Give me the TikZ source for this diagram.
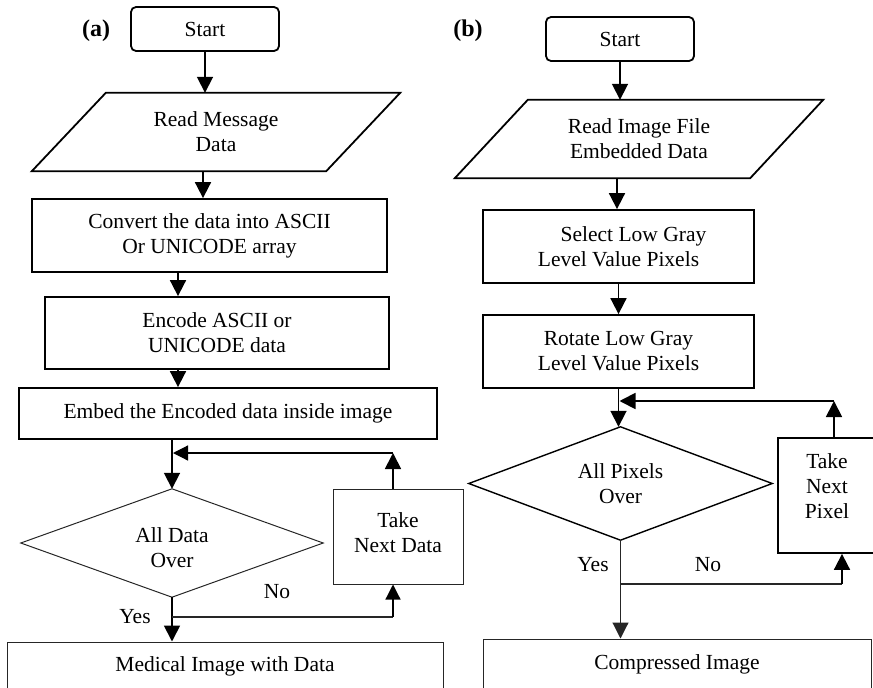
\documentclass[tikz,border=0pt]{standalone}
\usepackage{fontspec}
\setmainfont{Liberation Serif}
\usetikzlibrary{arrows.meta,calc}
\begin{document}
\begin{tikzpicture}[x=1pt,y=-1pt,
  every node/.style={font=\fontsize{21.5}{25}\selectfont, inner sep=0pt, align=center},
  thickbox/.style={draw=black, line width=1.8pt},
  thinbox/.style={draw=black!85, line width=1pt},
  roundbox/.style={thickbox, rounded corners=5pt},
  arr/.style={line width=1.8pt, -{Triangle[length=16pt,width=16pt]}},
  arrthin/.style={line width=1.2pt, -{Triangle[length=15pt,width=15pt]}},
  thinline/.style={line width=1.1pt, draw=black!85},
  panel/.style={font=\fontsize{24}{26}\selectfont\bfseries}
]
\useasboundingbox (0,0) rectangle (873,688);

% ---------------- (a) ----------------
\node[panel] (labA) at (96,31) {(a)};
\node[roundbox, minimum width=148pt, minimum height=44pt] (startA) at (205,29) {Start};
\node[minimum width=368pt, minimum height=78pt] (readA) at (216,132) {Read Message\\Data};
\draw[thickbox] (readA.south west) -- ([xshift=74pt]readA.north west) -- (readA.north east) -- ([xshift=-74pt]readA.south east) -- cycle;
\node[thickbox, minimum width=355pt, minimum height=73pt] (convA) at (209.5,235.5) {Convert the data into ASCII\\Or UNICODE array};
\node[thickbox, minimum width=344pt, minimum height=72pt] (encA) at (217,333) {Encode ASCII or\\UNICODE data};
\node[thickbox, minimum width=418pt, minimum height=51pt] (embA) at (228,413.5) {Embed the Encoded data inside image};
\node[minimum width=302pt, minimum height=108pt] (diaA) at (172,543) {};
\node (diaAt) at ([yshift=-5pt]diaA.center) {All Data\\Over};
\draw[thinbox] (diaA.north) -- (diaA.east) -- (diaA.south) -- (diaA.west) -- cycle;
\node[thinbox, minimum width=130pt, minimum height=95pt] (takeA) at (398,536.5) {};
\node (takeAt) at ([yshift=4pt]takeA.center) {Take\\Next Data};
\node[thinbox, minimum width=436pt, minimum height=48pt] (medA) at (225,666) {Medical Image with Data};
\node (yesA) at (135,617) {Yes};
\node (noA) at (277,592) {No};

\draw[arr] (startA.south) -- (startA.south |- readA.north);
\draw[arr] ([xshift=-13pt]readA.south) -- ([xshift=-13pt]readA.south |- convA.north);
\draw[arr] ([xshift=-31.5pt]convA.south) -- ([xshift=-31.5pt]convA.south |- encA.north);
\draw[arr] ([xshift=-39pt]encA.south) -- ([xshift=-39pt]encA.south |- embA.north);
\draw[arr] (diaA.north |- embA.south) -- (diaA.north);
\coordinate (cA) at (393,453);
\draw[arr] (takeA.north -| cA) -- (cA);
\draw[arrthin] (cA) -- ([xshift=1pt]diaA.north |- cA);
\draw[arr] (diaA.south) -- (diaA.south |- medA.north);
\coordinate (bA) at (172,617);
\draw[thinline] (bA) -- (bA -| cA);
\draw[arrthin] (bA -| cA) -- (cA |- takeA.south);

% ---------------- (b) ----------------
\node[panel] (labB) at (468,31) {(b)};
\node[roundbox, minimum width=148pt, minimum height=44pt] (startB) at (620,39) {Start};
\node[minimum width=368pt, minimum height=78pt] (readB) at (639,139) {Read Image File\\Embedded Data};
\draw[thickbox] (readB.south west) -- ([xshift=73pt]readB.north west) -- (readB.north east) -- ([xshift=-73pt]readB.south east) -- cycle;
\node[thickbox, minimum width=271pt, minimum height=73pt] (selB) at (618.5,246.5) {\hspace*{30pt}Select Low Gray\\Level Value Pixels};
\node[thickbox, minimum width=271pt, minimum height=73pt] (rotB) at (618.5,351.5) {Rotate Low Gray\\Level Value Pixels};
\node[minimum width=303pt, minimum height=113pt] (diaB) at (620.5,483.5) {All Pixels\\Over};
\draw[draw=black, line width=1.4pt] (diaB.north) -- (diaB.east) -- (diaB.south) -- (diaB.west) -- cycle;
\node[thickbox, minimum width=98pt, minimum height=115pt] (takeB) at (827,495.5) {};
\node (takeBt) at ([yshift=9pt]takeB.center) {Take\\Next\\Pixel};
\node[thinbox, minimum width=388pt, minimum height=51pt] (compB) at (677,664.5) {Compressed Image};
\node (yesB) at (593,565) {Yes};
\node (noB) at (708,565) {No};

\draw[arr] (startB.south) -- (startB.south |- readB.north);
\draw[arr] ([xshift=-22pt]readB.south) -- ([xshift=-22pt]readB.south |- selB.north);
\draw[arr] (selB.south) -- (selB.south |- rotB.north);
\draw[arr] (rotB.south) -- (rotB.south |- diaB.north);
\coordinate (cB) at (834,401);
\draw[arr] (takeB.north -| cB) -- (cB);
\draw[arr] (cB) -- ([xshift=1pt]rotB.south |- cB);
\draw[thinline, -{Triangle[length=16pt,width=16pt]}] (diaB.south) -- (diaB.south |- compB.north);
\coordinate (bB) at (620.5,584);
\coordinate (dB) at (842,584);
\draw[thinline] (bB) -- (dB);
\draw[arr] (dB) -- (dB |- takeB.south);
\end{tikzpicture}
\end{document}
